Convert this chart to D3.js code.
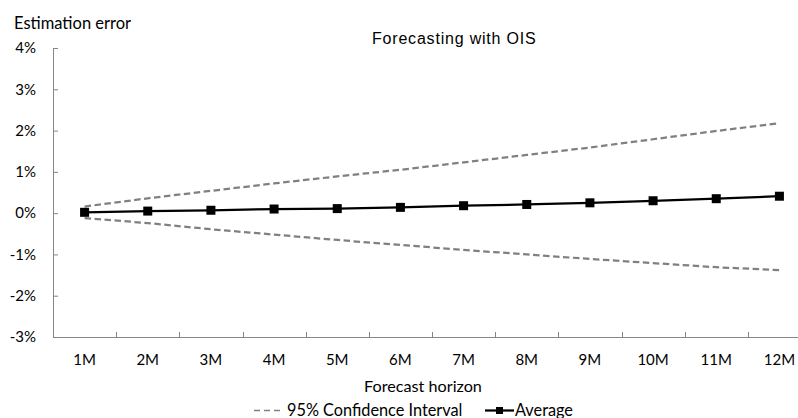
<!DOCTYPE html>
<html>
<head>
<meta charset="utf-8">
<script src="https://cdn.jsdelivr.net/npm/d3@7/dist/d3.min.js"></script>
<style>
  html, body { margin: 0; padding: 0; background: #fff; }
  svg { display: block; }
  text { font-family: Lato, "Open Sans", sans-serif; fill: #000; }
</style>
</head>
<body>
<svg id="chart" width="798" height="418"></svg>
<script>
// Forecast horizons (months ahead)
const horizons = ["1M","2M","3M","4M","5M","6M","7M","8M","9M","10M","11M","12M"];
// Average estimation error, in percent
const average = [0.02, 0.05, 0.07, 0.10, 0.11, 0.14, 0.18, 0.21, 0.25, 0.30, 0.35, 0.41];
// 95% confidence interval bounds, in percent
const upperCI = [0.16, 0.36, 0.54, 0.72, 0.89, 1.05, 1.23, 1.41, 1.59, 1.79, 1.99, 2.18];
const lowerCI = [-0.12, -0.24, -0.39, -0.52, -0.65, -0.77, -0.89, -1.00, -1.11, -1.21, -1.31, -1.38];
// Y-axis tick values, in percent
const yTicks = [-3, -2, -1, 0, 1, 2, 3, 4];

const svg = d3.select("#chart");
const plotL = 53, plotR = 811, plotT = 48, plotB = 337;

const x = d3.scaleBand().domain(horizons).range([plotL, plotR]);
const y = d3.scaleLinear().domain([-3, 4]).range([plotB, plotT]);
const cx = d => x(d) + x.bandwidth() / 2;

const axisColor = "#868686";

// Y axis (ticks pointing into the plot)
const yAxis = svg.append("g")
  .attr("transform", `translate(${plotL},0)`)
  .call(d3.axisRight(y).tickValues(yTicks).tickSize(5).tickFormat(""));
yAxis.select(".domain").attr("stroke", axisColor).attr("d", `M0.5,${plotT}V${plotB}`);
yAxis.selectAll(".tick line").attr("stroke", axisColor);

svg.append("g").selectAll("text").data(yTicks).join("text")
  .attr("x", 36).attr("y", d => y(d)).attr("dy", "0.35em")
  .attr("text-anchor", "end").attr("font-size", 15)
  .text(d => d + "%");

// X axis at the bottom of the plot, category boundaries as ticks
const xAxis = svg.append("g")
  .attr("transform", `translate(0,${plotB})`)
  .call(d3.axisTop(x).tickSize(0).tickFormat(""));
xAxis.select(".domain").attr("stroke", axisColor).attr("d", `M${plotL},0.5H${plotR}`);
xAxis.selectAll(".tick").remove();
svg.append("g").selectAll("line").data(horizons.slice(1)).join("line")
  .attr("x1", d => Math.round(x(d)) + 0.5).attr("x2", d => Math.round(x(d)) + 0.5)
  .attr("y1", plotB - 5).attr("y2", plotB)
  .attr("stroke", axisColor);

svg.append("g").selectAll("text").data(horizons).join("text")
  .attr("x", d => cx(d)).attr("y", 360).attr("dy", "0.35em")
  .attr("text-anchor", "middle").attr("font-size", 15)
  .text(d => d);

// Confidence interval bounds
const line = d3.line().x((d, i) => cx(horizons[i])).y(d => y(d));
[upperCI, lowerCI].forEach(s => {
  svg.append("path").datum(s)
    .attr("d", line).attr("fill", "none")
    .attr("stroke", "#808080").attr("stroke-width", 2.25)
    .attr("stroke-dasharray", "6.5,3.5");
});

// Average error line with square markers
svg.append("path").datum(average)
  .attr("d", line).attr("fill", "none")
  .attr("stroke", "#000").attr("stroke-width", 2.25);
svg.append("g").selectAll("rect").data(average).join("rect")
  .attr("x", (d, i) => cx(horizons[i]) - 4.5).attr("y", d => y(d) - 4.5)
  .attr("width", 9).attr("height", 9).attr("fill", "#000");

// Titles
svg.append("text").attr("x", 14).attr("y", 29)
  .attr("font-size", 16.5).text("Estimation error");
svg.append("text").attr("x", 372).attr("y", 44)
  .attr("font-size", 16).style("letter-spacing", "0.8px")
  .style("font-family", "'Liberation Sans', Arial, sans-serif")
  .text("Forecasting with OIS");
svg.append("text").attr("x", 423).attr("y", 392)
  .attr("text-anchor", "middle").attr("font-size", 16.2)
  .text("Forecast horizon");

// Legend
const lg = svg.append("g");
lg.append("line").attr("x1", 254).attr("x2", 280).attr("y1", 410.5).attr("y2", 410.5)
  .attr("stroke", "#808080").attr("stroke-width", 1.5).attr("stroke-dasharray", "6,4");
lg.append("text").attr("x", 287).attr("y", 415.5)
  .attr("font-size", 16.3).text("95% Confidence Interval");
lg.append("line").attr("x1", 485).attr("x2", 514).attr("y1", 410.5).attr("y2", 410.5)
  .attr("stroke", "#000").attr("stroke-width", 2.25);
lg.append("rect").attr("x", 496).attr("y", 407).attr("width", 7).attr("height", 7).attr("fill", "#000");
lg.append("text").attr("x", 515).attr("y", 415.5)
  .attr("font-size", 16.3).text("Average");
</script>
</body>
</html>
